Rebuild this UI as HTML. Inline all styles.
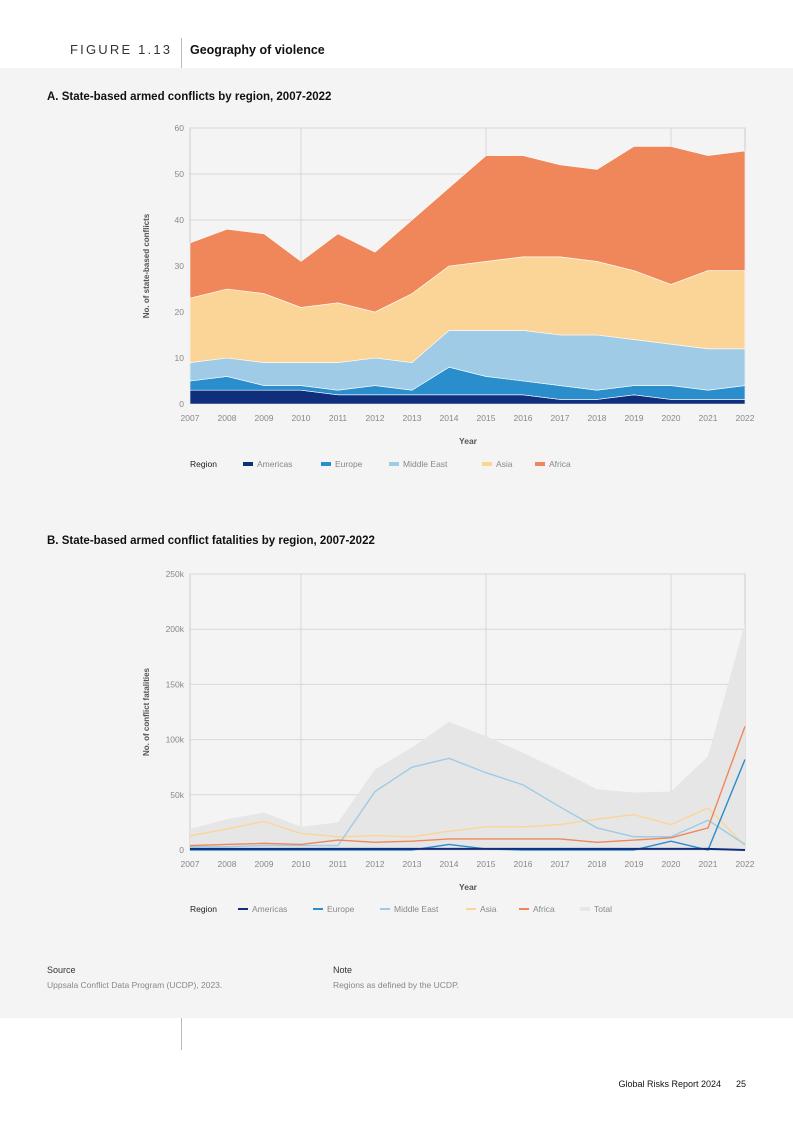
<!DOCTYPE html>
<html><head><meta charset="utf-8"><style>
body{margin:0;background:#fff;font-family:"Liberation Sans",sans-serif}
svg{display:block}
</style></head><body>
<svg id="s" width="793" height="1122" viewBox="0 0 793 1122" xmlns="http://www.w3.org/2000/svg" font-family="Liberation Sans, sans-serif">
<rect x="0" y="68" width="793" height="950" fill="#f4f4f4"/>
<line x1="181.5" y1="38" x2="181.5" y2="68" stroke="#bbb"/>
<line x1="181.5" y1="1018" x2="181.5" y2="1050" stroke="#bbb"/>
<text x="70" y="54" font-size="13" letter-spacing="2.2" fill="#333">FIGURE 1.13</text>
<text x="190" y="54" font-size="12.5" font-weight="bold" fill="#111">Geography of violence</text>
<text x="47" y="100" font-size="11.5" font-weight="bold" fill="#111">A. State-based armed conflicts by region, 2007-2022</text>
<text x="47" y="544" font-size="11.5" font-weight="bold" fill="#111">B. State-based armed conflict fatalities by region, 2007-2022</text>
<g id="ga"></g><g id="gb"></g>
<text x="47" y="973" font-size="9" fill="#333">Source</text>
<text x="47" y="988" font-size="8.5" fill="#888">Uppsala Conflict Data Program (UCDP), 2023.</text>
<text x="333" y="973" font-size="9" fill="#333">Note</text>
<text x="333" y="988" font-size="8.5" fill="#888">Regions as defined by the UCDP.</text>
<text x="721" y="1087" font-size="9" text-anchor="end" fill="#111">Global Risks Report 2024</text>
<text x="746" y="1087" font-size="9" text-anchor="end" fill="#111">25</text>
</svg>
<script>
const years=[2007,2008,2009,2010,2011,2012,2013,2014,2015,2016,2017,2018,2019,2020,2021,2022];
const conflictsAmericas=[3,3,3,3,2,2,2,2,2,2,1,1,2,1,1,1];
const conflictsEurope=[2,3,1,1,1,2,1,6,4,3,3,2,2,3,2,3];
const conflictsMiddleEast=[4,4,5,5,6,6,6,8,10,11,11,12,10,9,9,8];
const conflictsAsia=[14,15,15,12,13,10,15,14,15,16,17,16,15,13,17,17];
const conflictsAfrica=[12,13,13,10,15,13,16,17,23,22,20,20,27,30,25,26];
const ticksA=[0,10,20,30,40,50,60];
const fatalAmericas=[1,1,1,1,1,1,1,1,1,1,1,1,1,1,1,0];
const fatalEurope=[0,0,0,0,0,0,0,5,1,0,0,0,0,8,0,82];
const fatalMiddleEast=[3,3,4,4,4,53,75,83,70,59,39,20,12,12,27,5];
const fatalAsia=[13,19,26,15,12,13,12,17,21,21,23,28,32,23,38,4];
const fatalAfrica=[4,5,6,5,9,7,8,10,10,10,10,7,9,11,20,112];
const fatalTotal=[19,28,34,21,25,73,93,116,103,88,72,55,52,53,85,205];
const ticksB=[0,50,100,150,200,250];
const tickLabelsB=["0","50k","100k","150k","200k","250k"];
const regions=["Americas","Europe","Middle East","Asia","Africa"];
const colors=["#0f2f7c","#2a8dcc","#9fcbe6","#fbd597","#f0875a"];
const NS="http://www.w3.org/2000/svg";
function mk(p,t,a){const e=document.createElementNS(NS,t);for(const k in a)e.setAttribute(k,a[k]);p.appendChild(e);return e;}
const X0=190,X1=745;
const xs=i=>X0+(X1-X0)*i/(years.length-1);
function frame(g,top,bot,ticks,labels,ymax,yTitle,prefix){
  mk(g,"rect",{x:X0,y:top,width:X1-X0,height:bot-top,fill:"#f4f4f4",stroke:"#ccc"});
  const ys=v=>bot-(bot-top)*v/ymax;
  ticks.forEach((t,i)=>{const l=mk(g,"line",{x1:X0,x2:X1,y1:ys(t),y2:ys(t),stroke:"#d8d8d8"});
    
    
    const tx=mk(g,"text",{x:184,y:ys(t)+3,"font-size":8.5,fill:"#888","text-anchor":"end"});tx.textContent=labels[i];
    
    });
  [2010,2015,2020].forEach(y=>{const i=years.indexOf(y);const l=mk(g,"line",{x1:xs(i),x2:xs(i),y1:top,y2:bot,stroke:"#d8d8d8"});
    
    });
  years.forEach((y,i)=>{const tx=mk(g,"text",{x:xs(i),y:bot+17,"font-size":8.5,fill:"#888","text-anchor":"middle"});tx.textContent=y;
    
    });
  const xt=mk(g,"text",{x:468,y:bot+40,"font-size":8.5,"font-weight":"bold",fill:"#555","text-anchor":"middle"});xt.textContent="Year";
  
  
  const yt=mk(g,"text",{x:0,y:0,"font-size":8,"font-weight":"bold",fill:"#555","text-anchor":"middle",transform:`translate(149,${(top+bot)/2}) rotate(-90)`});yt.textContent=yTitle;
  
  
  return ys;
}
// Chart A
const ga=document.getElementById("ga");
const ysA=frame(ga,128,404,ticksA,ticksA.map(String),60,"No. of state-based conflicts","chart-a");
const series=[conflictsAmericas,conflictsEurope,conflictsMiddleEast,conflictsAsia,conflictsAfrica];
let base=years.map(()=>0);
series.forEach((s,k)=>{
  const top=base.map((b,i)=>b+s[i]);
  let d="M"+top.map((v,i)=>xs(i)+","+ysA(v)).join("L");
  for(let i=years.length-1;i>=0;i--)d+="L"+xs(i)+","+ysA(base[i]);
  const p=mk(ga,"path",{d:d+"Z",fill:colors[k],stroke:"#fff","stroke-width":0.6});
  
  
  base=top;
});
function legend(g,y,line,prefix){
  const t=mk(g,"text",{x:190,y:y+3,"font-size":8.5,fill:"#222"});t.textContent="Region";
  
  
  const names=line?regions.concat(["Total"]):regions;
  const cols=line?colors.concat(["#e6e6e6"]):colors;
  const xsL=line?[238,313,380,466,519,580]:[243,321,389,482,535];
  names.forEach((n,i)=>{
    const r=mk(g,"rect",{x:xsL[i],y:line?y-1:y-2,width:10,height:line?2:4,fill:cols[i]});
    if(n==="Total")r.setAttribute("height",4),r.setAttribute("y",y-2);
    
    
    const tx=mk(g,"text",{x:xsL[i]+14,y:y+3,"font-size":8.5,fill:"#888"});tx.textContent=n;
    
    
  });
}
legend(ga,464,false,"chart-a");
// Chart B
const gb=document.getElementById("gb");
const ysB=frame(gb,574,850,ticksB,tickLabelsB,250,"No. of conflict fatalities","chart-b");
let dT="M"+fatalTotal.map((v,i)=>xs(i)+","+ysB(v)).join("L")+`L${X1},850L${X0},850Z`;
const tot=mk(gb,"path",{d:dT,fill:"#e6e6e6"});


const lines=[fatalAsia,fatalMiddleEast,fatalAfrica,fatalEurope,fatalAmericas];
const lidx=[3,2,4,1,0];
lines.forEach((s,j)=>{
  const k=lidx[j];
  const p=mk(gb,"polyline",{points:s.map((v,i)=>xs(i)+","+ysB(v)).join(" "),fill:"none",stroke:colors[k],"stroke-width":k===0?2:1.4});
  
  
});
legend(gb,909,true,"chart-b");
</script>
</body></html>
